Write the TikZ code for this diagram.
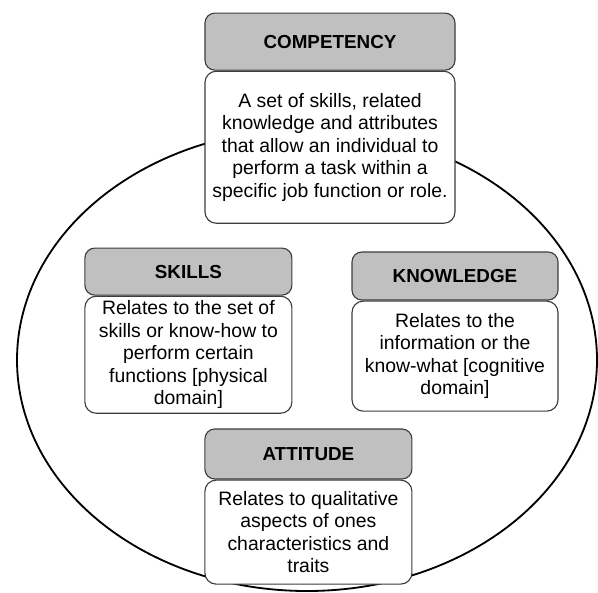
\documentclass[tikz,border=0pt]{standalone}
\usepackage{fontspec}
\setmainfont{Liberation Sans}
\usetikzlibrary{positioning}

\definecolor{headgray}{RGB}{192,192,192}
\definecolor{edgegray}{RGB}{60,60,60}

\begin{document}
\begin{tikzpicture}[font=\fontsize{13.8}{16}\selectfont]
		\tikzstyle{head} = [rectangle, rounded corners=7pt, text centered, draw=edgegray, fill=headgray, line width=0.8pt, font=\fontsize{13.4}{16}\selectfont\bfseries]
		
		\tikzstyle{info} = [rectangle, rounded corners=8pt, align=center, inner sep=0pt, draw=edgegray, fill=white, line width=0.8pt]
		
		\useasboundingbox (0,0) rectangle (14.95,-14.8);
		
		% Outer ellipse, drawn first so the boxes cover it
		\draw [line width=1.3pt] (7.675,-9.0) ellipse (7.25cm and 5.775cm);
		
		% Top node
		\node (comp) [head, minimum width=6.25cm, minimum height=1.425cm] at (8.25,-1.04) {COMPETENCY};
		\node (compinfo) [info, minimum width=6.25cm, minimum height=3.8cm, below=0pt of comp] {A set of skills, related\\ knowledge and attributes\\ that allow an individual to\\ perform a task within a\\ specific job function or role.};
		
		% Level 1 nodes
		\node (skills) [head, minimum width=5.175cm, minimum height=1.175cm] at (4.71,-6.79) {SKILLS};
		\node (skillsinfo) [info, minimum width=5.175cm, minimum height=2.925cm, below=0pt of skills] {Relates to the set of\\ skills or know-how to\\ perform certain\\ functions [physical\\ domain]};
		
		\node (know) [head, minimum width=5.15cm, minimum height=1.2cm] at (11.375,-6.9) {KNOWLEDGE};
		\node (knowinfo) [info, minimum width=5.15cm, minimum height=2.75cm, below=0pt of know] {Relates to the\\ information or the\\ know-what [cognitive\\ domain]};
		
		% Level 2 node
		\node (att) [head, minimum width=5.175cm, minimum height=1.25cm] at (7.71,-11.35) {ATTITUDE};
		\node (attinfo) [info, minimum width=5.175cm, minimum height=2.6cm, below=0pt of att] {Relates to qualitative\\ aspects of ones\\ characteristics and\\ traits};
		
		\end{tikzpicture}
\end{document}
